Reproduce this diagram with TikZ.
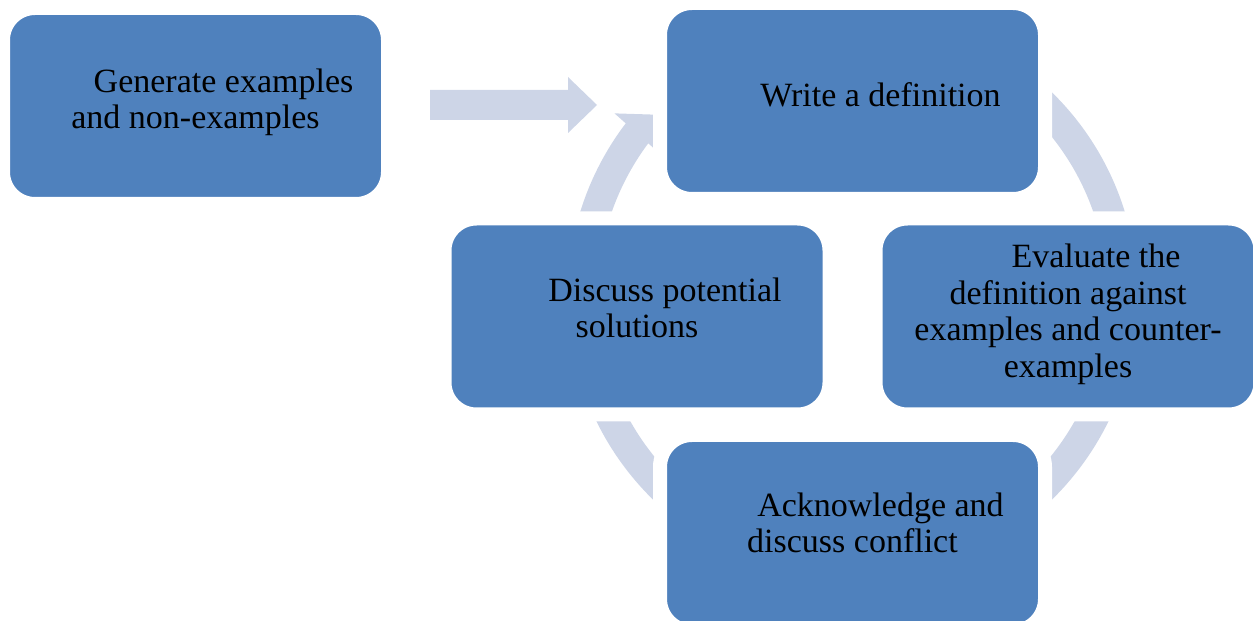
\documentclass[tikz,border=0pt]{standalone}
\usepackage{fontspec}
\setmainfont{Liberation Serif}
\usetikzlibrary{positioning}
\definecolor{boxblue}{RGB}{79,129,189}
\definecolor{ringblue}{RGB}{205,213,231}

\begin{document}
\begin{tikzpicture}[x=0.5pt,y=0.5pt]
		\tikzset{stepbox/.style = {shape=rectangle, rounded corners=16pt, fill=boxblue, draw=white, line width=7pt, minimum width=192.5pt, minimum height=98pt, inner sep=0pt},
			steptext/.style = {align=center, inner sep=0pt, font=\fontsize{17}{18.3}\selectfont}}
		\useasboundingbox (0,0) rectangle (1253,621);
		% cycle ring with its head
		\coordinate (ringc) at (852.5,325);
		\draw[ringblue, line width=15pt] ([shift={(100:135pt)}]ringc) arc[start angle=100, end angle=-218, radius=135pt];
		\fill[ringblue] ([shift={(142.5:150pt)}]ringc) -- ([shift={(137.6:134.5pt)}]ringc) -- ([shift={(143.5:120.5pt)}]ringc) -- cycle;
		% feed arrow
		\fill[ringblue] (430,531) -- (568,531) -- (568,544) -- (597,516) -- (568,488) -- (568,501) -- (430,501) -- cycle;
		% boxes
		\node[stepbox] (gen) at (195.5,515) {};
		\node[stepbox] (write) at (852.5,520) {};
		\node[stepbox] (eval) at (1068,304.5) {};
		\node[stepbox] (disc) at (637,304.5) {};
		\node[stepbox] (ack) at (852.5,88) {};
		\node[steptext] (gentext) at ([yshift=1.75pt]gen.center) {\hspace*{28pt}Generate examples\\and non-examples};
		\node[steptext] (writetext) at ([yshift=3pt]write.center) {\hspace*{28pt}Write a definition};
		\node[steptext] (evaltext) at ([yshift=1pt]eval.center) {\hspace*{28pt}Evaluate the\\definition against\\examples and counter-\\examples};
		\node[steptext] (disctext) at ([yshift=4.25pt]disc.center) {\hspace*{28pt}Discuss potential\\solutions};
		\node[steptext] (acktext) at ([yshift=5pt]ack.center) {\hspace*{28pt}Acknowledge and\\discuss conflict};
		
		\end{tikzpicture}
\end{document}
